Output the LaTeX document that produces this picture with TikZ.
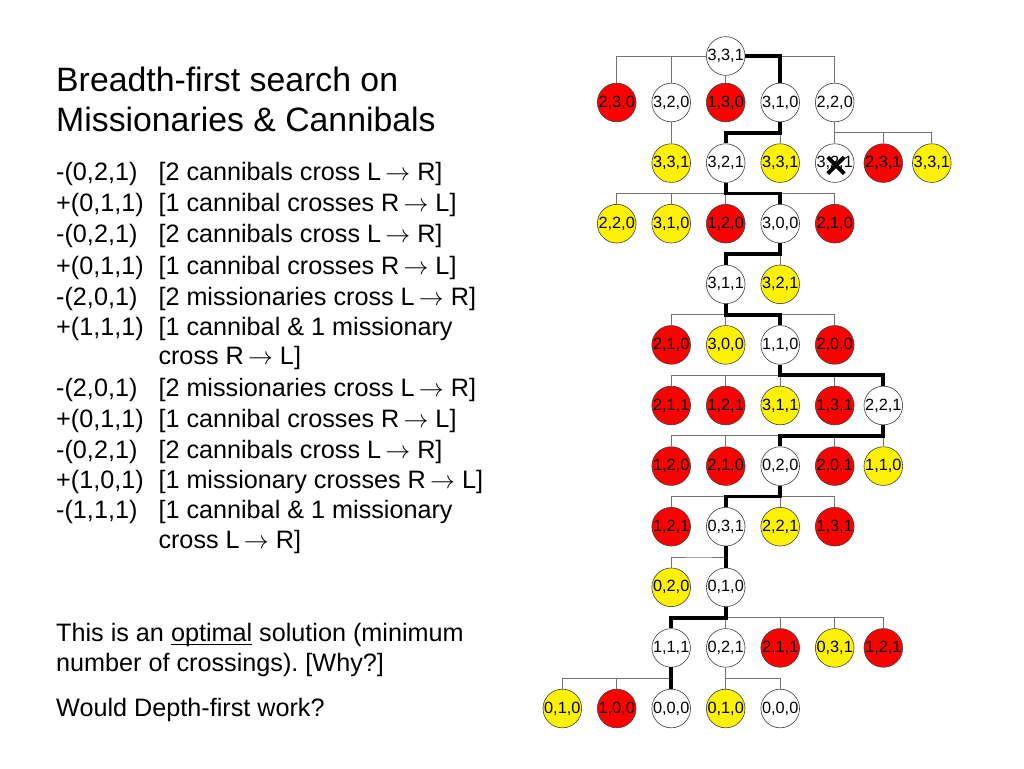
\documentclass[tikz,border=0pt]{standalone}
\usepackage{fontspec}
\setmainfont{Liberation Sans}
\usetikzlibrary{calc}
\newcommand\myul[1]{\setbox0\hbox{#1}\rlap{\rule[-3.8pt]{\wd0}{1.3pt}}\box0\relax}
\newcommand\arr{\,$\rightarrow$\ }
\tikzset{
  st/.style={circle,draw=black!75,line width=0.6pt,minimum size=37.5pt,inner sep=0pt,font=\fontsize{16.3}{16}\selectfont},
  wh/.style={st,fill=white},
  rd/.style={st,fill=red},
  yl/.style={st,fill=yellow},
  tl/.style={draw=black!55,line width=0.9pt},
  tk/.style={draw=black,line width=3.8pt},
  elbow/.style={to path={(\tikztostart) |- ($(\tikztostart)!.5!(\tikztotarget)$) -| (\tikztotarget)}},
  side/.style={to path={(\tikztostart) -| (\tikztotarget)}},
  ttl/.style={anchor=base west,inner sep=0pt,font=\fontsize{33.8}{40}\selectfont},
  txt/.style={anchor=base west,inner sep=0pt,font=\fontsize{25.2}{30}\selectfont\frenchspacing},
  xmark/.style={draw=black,line width=4pt},
}
\begin{document}
\begin{tikzpicture}[x=1pt,y=-1pt]
\fill[white] (0,0) rectangle (1024,768);
\useasboundingbox (0,0) rectangle (1024,768);
% ---------- text ----------
\node[ttl] (title1) at (56,91.7) {Breadth-first search on};
\node[ttl] (title2) at (56,131.5) {Missionaries \& Cannibals};
\node[txt] (p1) at (56,180) {-(0,2,1)};
\node[txt] (q1) at (158.3,180) {[2 cannibals cross L\arr R]};
\node[txt] (p2) at (56,211.5) {+(0,1,1)};
\node[txt] (q2) at (158.3,211.5) {[1 cannibal crosses R\arr L]};
\node[txt] (p3) at (56,242.7) {-(0,2,1)};
\node[txt] (q3) at (158.3,242.7) {[2 cannibals cross L\arr R]};
\node[txt] (p4) at (56,274) {+(0,1,1)};
\node[txt] (q4) at (158.3,274) {[1 cannibal crosses R\arr L]};
\node[txt] (p5) at (56,305) {-(2,0,1)};
\node[txt] (q5) at (158.3,305) {[2 missionaries cross L\arr R]};
\node[txt] (p6) at (56,335.7) {+(1,1,1)};
\node[txt] (q6) at (158.3,335.7) {[1 cannibal \& 1 missionary};
\node[txt] (q7) at (158.3,364.3) {cross R\arr L]};
\node[txt] (p8) at (56,396.7) {-(2,0,1)};
\node[txt] (q8) at (158.3,396.7) {[2 missionaries cross L\arr R]};
\node[txt] (p9) at (56,427.5) {+(0,1,1)};
\node[txt] (q9) at (158.3,427.5) {[1 cannibal crosses R\arr L]};
\node[txt] (p10) at (56,458) {-(0,2,1)};
\node[txt] (q10) at (158.3,458) {[2 cannibals cross L\arr R]};
\node[txt] (p11) at (56,488.3) {+(1,0,1)};
\node[txt] (q11) at (158.3,488.3) {[1 missionary crosses R\arr L]};
\node[txt] (p12) at (56,518.3) {-(1,1,1)};
\node[txt] (q12) at (158.3,518.3) {[1 cannibal \& 1 missionary};
\node[txt] (q13) at (158.3,548.3) {cross L\arr R]};
\node[txt] (b1) at (56,641.5) {This is an \myul{optimal} solution (minimum};
\node[txt] (b2) at (56,671) {number of crossings). [Why?]};
\node[txt] (b3) at (56,716.5) {Would Depth-first work?};
% ---------- tree nodes ----------
\node[wh] (r) at (725.7,56) {3,3,1};
% level 1
\node[rd] (a1) at (616.7,102.5) {2,3,0};
\node[wh] (a2) at (671.2,102.5) {3,2,0};
\node[rd] (a3) at (725.7,102.5) {1,3,0};
\node[wh] (a4) at (780.2,102.5) {3,1,0};
\node[wh] (a5) at (834.7,102.5) {2,2,0};
% level 2
\node[yl] (b2n) at (671.2,163.1) {3,3,1};
\node[wh] (b3n) at (725.7,163.1) {3,2,1};
\node[yl] (b4n) at (780.2,163.1) {3,3,1};
\node[wh] (b5n) at (834.7,163.1) {3,2,1};
\node[rd] (b6n) at (883.3,163.1) {2,3,1};
\node[yl] (b7n) at (931.8,163.1) {3,3,1};
% level 3
\node[yl] (c1) at (616.7,223.7) {2,2,0};
\node[yl] (c2) at (671.2,223.7) {3,1,0};
\node[rd] (c3) at (725.7,223.7) {1,2,0};
\node[wh] (c4) at (780.2,223.7) {3,0,0};
\node[rd] (c5) at (834.7,223.7) {2,1,0};
% level 4
\node[wh] (d3) at (725.7,284.3) {3,1,1};
\node[yl] (d4) at (780.2,284.3) {3,2,1};
% level 5
\node[rd] (e2) at (671.2,344.9) {2,1,0};
\node[yl] (e3) at (725.7,344.9) {3,0,0};
\node[wh] (e4) at (780.2,344.9) {1,1,0};
\node[rd] (e5) at (834.7,344.9) {2,0,0};
% level 6
\node[rd] (f2) at (671.2,405.5) {2,1,1};
\node[rd] (f3) at (725.7,405.5) {1,2,1};
\node[yl] (f4) at (780.2,405.5) {3,1,1};
\node[rd] (f5) at (834.7,405.5) {1,3,1};
\node[wh] (f6) at (883.3,405.5) {2,2,1};
% level 7
\node[rd] (g2) at (671.2,466.1) {1,2,0};
\node[rd] (g3) at (725.7,466.1) {2,1,0};
\node[wh] (g4) at (780.2,466.1) {0,2,0};
\node[rd] (g5) at (834.7,466.1) {2,0,1};
\node[yl] (g6) at (883.3,466.1) {1,1,0};
% level 8
\node[rd] (h2) at (671.2,526.7) {1,2,1};
\node[wh] (h3) at (725.7,526.7) {0,3,1};
\node[yl] (h4) at (780.2,526.7) {2,2,1};
\node[rd] (h5) at (834.7,526.7) {1,3,1};
% level 9
\node[yl] (i2) at (671.2,587.3) {0,2,0};
\node[wh] (i3) at (725.7,587.3) {0,1,0};
% level 10
\node[wh] (j2) at (671.2,647.9) {1,1,1};
\node[wh] (j3) at (725.7,647.9) {0,2,1};
\node[rd] (j4) at (780.2,647.9) {2,1,1};
\node[yl] (j5) at (834.7,647.9) {0,3,1};
\node[rd] (j6) at (883.3,647.9) {1,2,1};
% level 11
\node[yl] (k0) at (562.3,708.5) {0,1,0};
\node[rd] (k1) at (616.7,708.5) {1,0,0};
\node[wh] (k2) at (671.2,708.5) {0,0,0};
\node[yl] (k3) at (725.7,708.5) {0,1,0};
\node[wh] (k4) at (780.2,708.5) {0,0,0};
% ---------- thin connectors ----------
\draw[tl] (r) to[side] (a1) (r) to[side] (a2) (r) -- (a3) (r) to[side] (a4) (r) to[side] (a5);
\draw[tl] (a2) -- (b2n);
\draw[tl] (a4) to[elbow] (b3n) (a4) to[elbow] (b4n);
\draw[tl] (a5) to[elbow] (b5n) (a5) to[elbow] (b6n) (a5) to[elbow] (b7n);
\foreach \c in {c1,c2,c3,c4,c5} \draw[tl] (b3n) to[elbow] (\c);
\foreach \c in {d3,d4} \draw[tl] (c4) to[elbow] (\c);
\foreach \c in {e2,e3,e4,e5} \draw[tl] (d3) to[elbow] (\c);
\foreach \c in {f2,f3,f4,f5,f6} \draw[tl] (e4) to[elbow] (\c);
\foreach \c in {g2,g3,g4,g5,g6} \draw[tl] (f6) to[elbow] (\c);
\foreach \c in {h2,h3,h4,h5} \draw[tl] (g4) to[elbow] (\c);
\foreach \c in {i2,i3} \draw[tl] (h3) to[elbow] (\c);
\foreach \c in {j2,j3,j4,j5,j6} \draw[tl] (i3) to[elbow] (\c);
\foreach \c in {k0,k1,k2} \draw[tl] (j2) to[elbow] (\c);
\foreach \c in {k3,k4} \draw[tl] (j3) to[elbow] (\c);
% ---------- solution path ----------
\draw[tk] (r) to[side] (a4);
\draw[tk] (a4) to[elbow] (b3n);
\draw[tk] (b3n) to[elbow] (c4);
\draw[tk] (c4) to[elbow] (d3);
\draw[tk] (d3) to[elbow] (e4);
\draw[tk] (e4) to[elbow] (f6);
\draw[tk] (f6) to[elbow] (g4);
\draw[tk] (g4) to[elbow] (h3);
\draw[tk] (h3) to[elbow] (i3);
\draw[tk] (i3) to[elbow] (j2);
\draw[tk] (j2) to[elbow] (k2);
% ---------- cross on repeated state ----------
\draw[xmark] ($(b5n)+(-7,-6)$) -- ($(b5n)+(9.5,10.5)$);
\draw[xmark] ($(b5n)+(-7,10.5)$) -- ($(b5n)+(9.5,-6)$);
\end{tikzpicture}
\end{document}
